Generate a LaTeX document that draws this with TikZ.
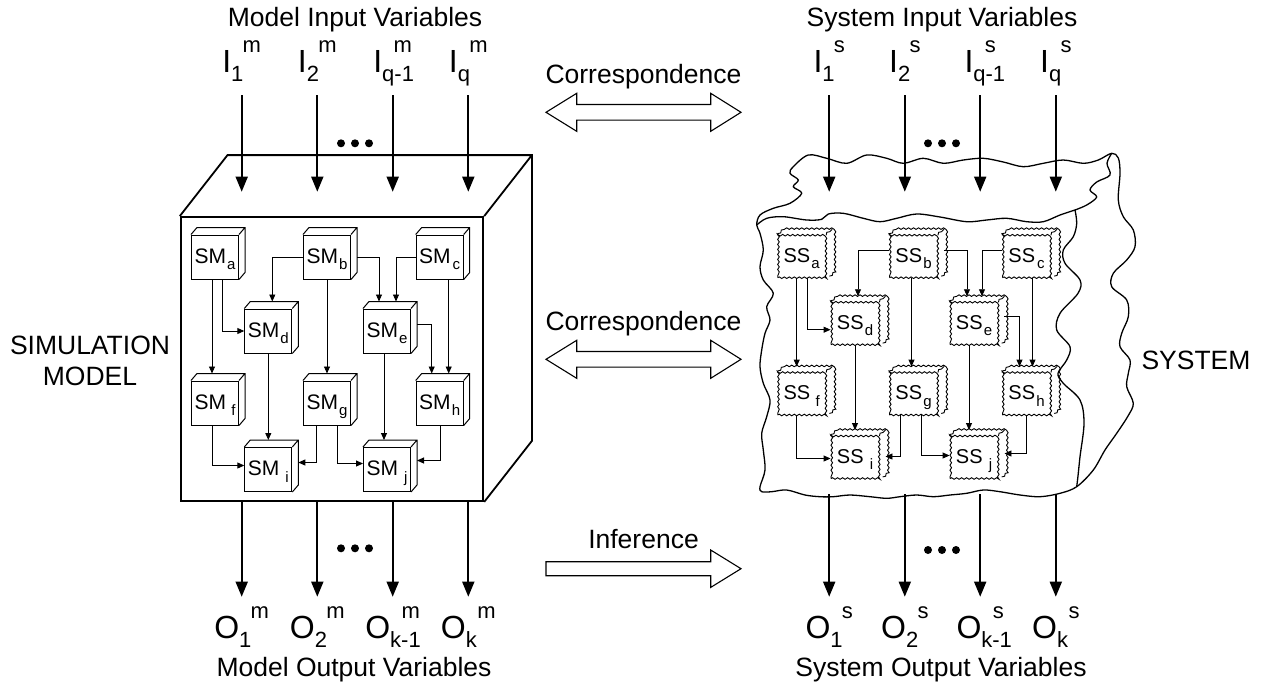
\documentclass[tikz,border=0pt]{standalone}
\usepackage{fontspec}
\setmainfont{Liberation Sans}
\usetikzlibrary{arrows.meta, decorations.pathmorphing, calc}

\newcommand{\subsz}{\fontsize{15}{15}\selectfont}
\newcommand{\blk}[2]{#1\raisebox{-6.5pt}{\makebox[9.5pt][r]{\subsz #2}}}
\newcommand{\varlab}[3]{{\fontsize{32}{32}\selectfont #1}\rlap{\raisebox{-9.2pt}{\fontsize{22}{22}\selectfont #2}}\hspace{11.5pt}\raisebox{19.3pt}{\fontsize{22}{22}\selectfont #3}}

\tikzset{
    lab/.style={font=\fontsize{26.5}{31}\selectfont, inner sep=0pt},
    varnode/.style={inner sep=0pt, anchor=base},
    bigbox/.style={draw, line width=1.8pt, minimum width=302.6pt, minimum height=284pt, inner sep=0pt},
    smbox/.style={draw, line width=1pt, minimum width=47pt, minimum height=44pt, inner sep=0pt,
        text height=15pt, text depth=3pt, font=\fontsize{21}{21}\selectfont},
    wavy/.style={decorate, decoration={snake, amplitude=0.8pt, segment length=5pt}},
    ssbox/.style={draw, wavy, line width=0.9pt, minimum width=48pt, minimum height=42pt, inner sep=0pt,
        text height=14pt, text depth=3pt, font=\fontsize{20}{20}\selectfont},
    link/.style={line width=0.9pt, -{Triangle[width=6pt,length=7pt]}},
    bigarrow/.style={line width=1.7pt, -{Triangle[width=12pt,length=15pt]}},
    blockarrow/.style={draw, fill=white, line width=1.1pt, line join=miter},
    sysline/.style={line width=1.3pt}
}

\begin{document}
\begin{tikzpicture}[x=1pt, y=-1pt]
    \useasboundingbox (0,0) rectangle (1261,686);

    % Simulation model box
    \node[bigbox] (model) at (332,359) {};
    \draw[line width=1.8pt, line join=miter] (model.north west) -- ++(47.7,-61) -| ([shift={(47.7,-61)}]model.south east) -- (model.south east)
        (model.north east) -- ++(47.7,-61);
    \node[lab, align=center] (simlab) at (90,361) {SIMULATION\\MODEL};

    % Model blocks
    \node[smbox] (SMa) at (215,257) {\blk{SM}{a}};
    \node[smbox] (SMb) at (327,257) {\blk{SM}{b}};
    \node[smbox] (SMc) at (439.7,257) {\blk{SM}{c}};
    \node[smbox] (SMd) at (268.3,331) {\blk{SM}{d}};
    \node[smbox] (SMe) at (387,331) {\blk{SM}{e}};
    \node[smbox] (SMf) at (215,403) {\blk{SM}{f}};
    \node[smbox] (SMg) at (327,403) {\blk{SM}{g}};
    \node[smbox] (SMh) at (439.7,403) {\blk{SM}{h}};
    \node[smbox] (SMi) at (268.3,469.5) {\blk{SM}{i}};
    \node[smbox] (SMj) at (387,469.5) {\blk{SM}{j}};
    \foreach \b in {a,...,j}
        \draw[line width=1pt] (SM\b.north west) -- ++(6,-7) -| ([shift={(6,-7)}]SM\b.south east) -- (SM\b.south east)
            (SM\b.north east) -- ++(6,-7);

    % Model links
    \draw[link] ([xshift=-3pt]SMa.south) -- ([xshift=-3pt,yshift=7pt]SMf.north);
    \draw[link] ([xshift=7pt]SMa.south) |- (SMd.west);
    \draw[link] (SMb.west) -| ([xshift=4pt,yshift=7pt]SMd.north);
    \draw[link] ([xshift=6pt]SMb.east) -| ([xshift=-8pt,yshift=7pt]SMe.north);
    \draw[link] (SMb.south) -- ([yshift=7pt]SMg.north);
    \draw[link] (SMc.west) -| ([xshift=9pt,yshift=7pt]SMe.north);
    \draw[link] ([xshift=9pt]SMc.south) -- ([xshift=9pt,yshift=7pt]SMh.north);
    \draw[link] ([xshift=6pt,yshift=7pt]SMe.east) -| ([xshift=-8pt,yshift=7pt]SMh.north);
    \draw[link] (SMd.south) -- ([yshift=7pt]SMi.north);
    \draw[link] ([xshift=-3pt]SMe.south) -- ([xshift=-3pt,yshift=7pt]SMj.north);
    \draw[link] ([xshift=-3pt]SMf.south) |- ([yshift=4pt]SMi.west);
    \draw[link] ([xshift=-11pt]SMg.south) |- ([xshift=6pt,yshift=7pt]SMi.east);
    \draw[link] ([xshift=10pt]SMg.south) |- ([yshift=6pt]SMj.west);
    \draw[link] ([xshift=1pt]SMh.south) |- ([xshift=6pt,yshift=9pt]SMj.east);

    % System outline
    \draw[sysline] plot[smooth cycle, tension=0.55] coordinates {
        (756.7,225) (760,215) (773.3,208.3) (790,203.3) (801.7,193.3) (793.3,186.7) (798.3,180) (790,173.3) (793.3,166.7) (808.3,155)
        (826.7,158.3) (846.7,163.3) (866.7,155) (886.7,158.3) (903.3,163.3) (923.3,158.3) (943.3,163.3) (963.3,160) (983.3,158.3)
        (1003.3,162) (1023.3,166.7) (1043.3,163.3) (1063.3,160) (1083.3,163.3) (1098.3,160) (1111.7,153.3)
        (1118.3,158) (1120,173.3) (1118.3,200) (1123.3,216.7) (1133.3,230) (1135,246.7) (1126.7,260) (1113.3,273.3) (1111.7,286.7)
        (1126.7,300) (1128.3,316.7) (1121.7,333.3) (1120,346.7) (1130,360) (1128.3,373.3) (1126.7,386.7) (1133.3,403.3) (1128,416)
        (1116.7,433.3) (1105,450) (1093.3,470) (1076.7,486.7)
        (1060,493.3) (1040,496.7) (1020,495) (1000,491.7) (983.3,490) (966.7,493.3) (950,495) (933.3,496.7) (916.7,495) (900,496.7)
        (886.7,498.3) (870,496.7) (850,495) (833.3,496.7) (820,496.7) (805,495) (786.7,490) (771.7,491.7) (761.7,491.7)
        (760,486.7) (765,470) (763.3,450) (761.7,433.3) (766.7,416.7) (770,400) (763.3,383.3) (760,366.7) (761.7,350) (765,333.3)
        (770,320) (766.7,306.7) (773.3,293.3) (763.3,280) (760,266.7) (763.3,250) (760,233.3)};
    \draw[sysline] plot[smooth, tension=0.55] coordinates {
        (756.7,225) (766.7,218.3) (783.3,216.7) (806.7,220) (821.7,219.3) (828.3,214) (843.3,213.3) (863.3,218.3) (880,221.7)
        (896.7,218.3) (916.7,214) (940,217) (966.7,221.7) (986.7,220) (1006.7,218.3) (1026.7,221.7) (1043.3,221.7) (1060,215) (1075,210)};
    \draw[sysline] plot[smooth, tension=0.55] coordinates {
        (1075,210) (1076.7,223.3) (1073.3,236.7) (1063.3,250) (1065,263.3) (1080,280) (1078,293.3) (1060,313.3) (1056.7,330)
        (1070,346.7) (1066.7,360) (1058,373.3) (1063.3,383.3) (1080,400) (1084,423.3) (1080,456.7) (1078,476) (1076.7,486.7)};
    \draw[sysline] plot[smooth, tension=0.55] coordinates {
        (1111.7,153.3) (1107,163.3) (1110,175) (1096.7,182) (1090,190) (1096.7,197) (1086.7,205) (1075,210)};
    \node[lab, anchor=base] (syslab) at (1196,369.5) {SYSTEM};

    % System blocks
    \node[ssbox] (SSa) at (801.7,256.7) {\blk{SS}{a}};
    \node[ssbox] (SSb) at (913.5,256.7) {\blk{SS}{b}};
    \node[ssbox] (SSc) at (1026.5,256.7) {\blk{SS}{c}};
    \node[ssbox] (SSd) at (855,323.7) {\blk{SS}{d}};
    \node[ssbox] (SSe) at (974,323.7) {\blk{SS}{e}};
    \node[ssbox] (SSf) at (801.7,394) {\blk{SS}{f}};
    \node[ssbox] (SSg) at (913.5,394) {\blk{SS}{g}};
    \node[ssbox] (SSh) at (1026.5,394) {\blk{SS}{h}};
    \node[ssbox] (SSi) at (855,457.5) {\blk{SS}{i}};
    \node[ssbox] (SSj) at (974,457.5) {\blk{SS}{j}};
    \foreach \b in {a,...,j}
        \draw[wavy, line width=0.9pt] (SS\b.north west) -- ++(6,-6) -| ([shift={(6,-6)}]SS\b.south east) -- (SS\b.south east)
            (SS\b.north east) -- ++(6,-6);

    % System links
    \draw[link] ([xshift=-5pt]SSa.south) -- ([xshift=-5pt,yshift=6pt]SSf.north);
    \draw[link] ([xshift=6pt]SSa.south) |- ([yshift=-6pt]SSd.west);
    \draw[link] ([yshift=6pt]SSb.west) -| ([xshift=3pt,yshift=6pt]SSd.north);
    \draw[link] ([xshift=6pt,yshift=6pt]SSb.east) -| ([xshift=-7pt,yshift=6pt]SSe.north);
    \draw[link] ([xshift=-2pt]SSb.south) -- ([xshift=-2pt,yshift=6pt]SSg.north);
    \draw[link] ([yshift=6pt]SSc.west) -| ([xshift=8pt,yshift=6pt]SSe.north);
    \draw[link] ([xshift=6pt]SSc.south) -- ([xshift=6pt,yshift=6pt]SSh.north);
    \draw[link] ([xshift=6pt,yshift=7pt]SSe.east) -| ([xshift=-7pt,yshift=6pt]SSh.north);
    \draw[link] (SSd.south) -- ([yshift=6pt]SSi.north);
    \draw[link] ([xshift=-5pt]SSe.south) -- ([xshift=-5pt,yshift=6pt]SSj.north);
    \draw[link] ([xshift=-5pt]SSf.south) |- ([yshift=-1pt]SSi.west);
    \draw[link] ([xshift=-13pt]SSg.south) |- ([xshift=6pt,yshift=1pt]SSi.east);
    \draw[link] ([xshift=8pt]SSg.south) |- ([yshift=2pt]SSj.west);
    \draw[link] (SSh.south) |- ([xshift=6pt,yshift=4pt]SSj.east);

    % Input and output variables
    \coordinate (inTop) at (0,95);
    \coordinate (inTip) at (0,191.7);
    \coordinate (sysBot) at (0,494);
    \coordinate (outTip) at (0,596.7);
    \node[lab, anchor=base] (mInTitle) at (355,26.7) {Model Input Variables};
    \node[lab, anchor=base] (sInTitle) at (942,26.7) {System Input Variables};
    \node[lab, anchor=base] (mOutTitle) at (354,676.7) {Model Output Variables};
    \node[lab, anchor=base] (sOutTitle) at (941,676.7) {System Output Variables};
    \foreach \x/\s/\o [count=\n] in {241.7/1/1, 317.3/2/2, 392.7/q-1/k-1, 468.3/q/k} {
        \node[varnode] (Im\n) at (\x,72) {\varlab{I}{\s}{m}};
        \node[varnode] (Om\n) at (\x,638) {\varlab{O}{\o}{m}};
        \node[varnode] (Is\n) at (\x+587.5,72) {\varlab{I}{\s}{s}};
        \node[varnode] (Os\n) at (\x+587.5,638) {\varlab{O}{\o}{s}};
        \draw[bigarrow] (Im\n |- inTop) -- (Im\n |- inTip);
        \draw[bigarrow] (Om\n |- model.south) -- (Om\n |- outTip);
        \draw[bigarrow] (Is\n |- inTop) -- (Is\n |- inTip);
        \draw[bigarrow] (Os\n |- sysBot) -- (Os\n |- outTip);
    }

    % Dots
    \foreach \x in {341,355,369} {
        \fill (\x,143.3) circle[radius=4pt];
        \fill (\x,548.3) circle[radius=4pt];
        \fill (\x+587,143.3) circle[radius=4pt];
        \fill (\x+587,550) circle[radius=4pt];
    }

    % Correspondence and inference
    \node[lab, anchor=base] (corrTop) at (643.5,83.5) {Correspondence};
    \node[lab, anchor=base] (corrMid) at (643.5,330) {Correspondence};
    \node[lab, anchor=base] (infer) at (643.5,548.3) {Inference};
    \foreach \y in {112.3,359.3}
        \draw[blockarrow, shift={(0,\y)}] (546,0) -- (576.7,-19) -- (576.7,-7.8) -- (710.7,-7.8) -- (710.7,-19) -- (741,0)
            -- (710.7,19) -- (710.7,7.8) -- (576.7,7.8) -- (576.7,19) -- cycle;
    \draw[blockarrow, shift={(0,568.7)}] (546,-7) -- (710.7,-7) -- (710.7,-18.7) -- (741,0) -- (710.7,18.7) -- (710.7,7)
        -- (546,7) -- cycle;
  \end{tikzpicture}
\end{document}
